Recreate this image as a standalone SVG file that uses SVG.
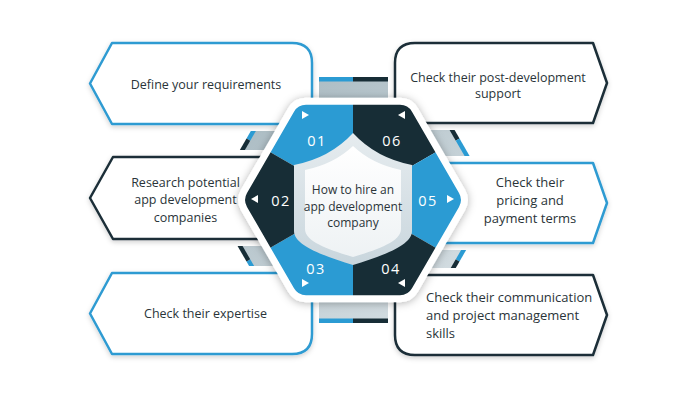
<svg xmlns="http://www.w3.org/2000/svg" width="700" height="400" viewBox="0 0 700 400">
<defs>
<style>
.txt{font-family:"Open Sans","Noto Sans","Liberation Sans",sans-serif;fill:#2a3439;font-size:12px;text-anchor:middle}
.num{font-family:"Open Sans","Noto Sans",sans-serif;fill:#fff;font-size:14.5px;letter-spacing:1.5px;text-anchor:middle}
.blue{fill:#2b9bd3}
.dark{fill:#172d36}
.bx{fill:#fff;stroke-width:2.5;stroke-linejoin:round;filter:url(#sh)}
.bb{stroke:#2f9bd2}
.bd{stroke:#1b2f38}
.under{fill:#fff;stroke:#fff;stroke-width:14;stroke-linejoin:round}
.tri{fill:#fff}
</style>
<filter id="sh" x="-20%" y="-20%" width="140%" height="150%">
<feDropShadow dx="0" dy="2" stdDeviation="2.5" flood-color="#000" flood-opacity="0.18"/>
</filter>
<filter id="hsh" x="-20%" y="-20%" width="140%" height="140%">
<feDropShadow dx="0" dy="1" stdDeviation="4" flood-color="#000" flood-opacity="0.3"/>
</filter>
<linearGradient id="ringG" x1="0" y1="0" x2="1" y2="1">
<stop offset="0" stop-color="#a4b6be"/>
<stop offset="1" stop-color="#dbe3e7"/>
</linearGradient>
<linearGradient id="shieldG" x1="0" y1="0" x2="0" y2="1">
<stop offset="0" stop-color="#e6ecef"/>
<stop offset="1" stop-color="#c9d6dd"/>
</linearGradient>
<linearGradient id="innerG" x1="0" y1="0" x2="0" y2="1">
<stop offset="0" stop-color="#ffffff"/>
<stop offset="1" stop-color="#eef2f4"/>
</linearGradient>
<clipPath id="hexClip">
<path d="M459,193.07 L412,111.63 Q408,104.7 400,104.7 L306,104.7 Q298,104.7 294,111.63 L247,193.07 Q243,200 247,206.93 L294,288.37 Q298,295.3 306,295.3 L400,295.3 Q408,295.3 412,288.37 L459,206.93 Q463,200 459,193.07 Z"/>
</clipPath>
<polygon id="s01" points="353,200 246.5,138.5 282,77 353,77"/>
<polygon id="s06" points="353,200 353,77 424,77 459.5,138.5"/>
<polygon id="s05" points="353,200 459.5,138.5 495,200 459.5,261.5"/>
<polygon id="s04" points="353,200 459.5,261.5 424,323 353,323"/>
<polygon id="s03" points="353,200 353,323 282,323 246.5,261.5"/>
<polygon id="s02" points="353,200 246.5,261.5 211,200 246.5,138.5"/>
</defs>

<rect width="700" height="400" fill="#fff"/>

<g id="connectors">
<use href="#s01" class="blue"/>
<use href="#s06" class="dark"/>
<use href="#s05" class="blue"/>
<use href="#s04" class="dark"/>
<use href="#s03" class="blue"/>
<use href="#s02" class="dark"/>
<polygon points="490,200 421.5,81.4 284.5,81.4 216,200 284.5,318.6 421.5,318.6" fill="url(#ringG)"/>
</g>

<g id="step1">
<path class="under" d="M112,43 H292 Q312,43 312,63 V104 Q312,124 292,124 H112 L90,83.5 Z"/>
<path class="bx bb" d="M112,43 H292 Q312,43 312,63 V104 Q312,124 292,124 H112 L90,83.5 Z"/>
<text class="txt" x="206" y="89" style="font-size:12.5px">Define your requirements</text>
</g>
<g id="step2">
<path class="under" d="M113,157 H280 Q300,157 300,177 V219 Q300,239 280,239 H113 L90,198 Z"/>
<path class="bx bd" d="M113,157 H280 Q300,157 300,177 V219 Q300,239 280,239 H113 L90,198 Z"/>
<text class="txt" x="185.5" y="187" style="font-size:12.5px">Research potential</text>
<text class="txt" x="185.5" y="204" style="font-size:12.5px">app development</text>
<text class="txt" x="185.5" y="221.5" style="font-size:12.5px">companies</text>
</g>
<g id="step3">
<path class="under" d="M112,273 H292 Q312,273 312,293 V334 Q312,354 292,354 H112 L90,313.5 Z"/>
<path class="bx bb" d="M112,273 H292 Q312,273 312,293 V334 Q312,354 292,354 H112 L90,313.5 Z"/>
<text class="txt" x="205.5" y="318" style="font-size:12.5px">Check their expertise</text>
</g>
<g id="step6">
<path class="under" d="M415,43 H593 L607,83 L593,123 H415 Q395,123 395,103 V63 Q395,43 415,43 Z"/>
<path class="bx bd" d="M415,43 H593 L607,83 L593,123 H415 Q395,123 395,103 V63 Q395,43 415,43 Z"/>
<text class="txt" x="498" y="81.5" style="font-size:12.5px">Check their post-development</text>
<text class="txt" x="498" y="97.5" style="font-size:12.5px">support</text>
</g>
<g id="step5">
<path class="under" d="M440,163 H593 L607,203 L593,243 H440 Q420,243 420,223 V183 Q420,163 440,163 Z"/>
<path class="bx bb" d="M440,163 H593 L607,203 L593,243 H440 Q420,243 420,223 V183 Q420,163 440,163 Z"/>
<text class="txt" x="530" y="187" style="font-size:13px">Check their</text>
<text class="txt" x="530" y="205" style="font-size:13px">pricing and</text>
<text class="txt" x="530" y="223" style="font-size:13px">payment terms</text>
</g>
<g id="step4">
<path class="under" d="M415,275 H593 L607,315 L593,355 H415 Q395,355 395,335 V295 Q395,275 415,275 Z"/>
<path class="bx bd" d="M415,275 H593 L607,315 L593,355 H415 Q395,355 395,335 V295 Q395,275 415,275 Z"/>
<text class="txt" x="426" y="302" style="font-size:13px;text-anchor:start">Check their communication</text>
<text class="txt" x="426" y="320" style="font-size:13px;text-anchor:start">and project management</text>
<text class="txt" x="426" y="338" style="font-size:13px;text-anchor:start">skills</text>
</g>

<g id="hub">
<path d="M465,189.61 L418,108.19 Q412,97.8 400,97.8 L306,97.8 Q294,97.8 288,108.19 L241,189.61 Q235,200 241,210.39 L288,291.81 Q294,302.2 306,302.2 L400,302.2 Q412,302.2 418,291.81 L465,210.39 Q471,200 465,189.61 Z" fill="#fff" filter="url(#hsh)"/>
<g clip-path="url(#hexClip)">
<use href="#s01" class="blue"/>
<use href="#s06" class="dark"/>
<use href="#s05" class="blue"/>
<use href="#s04" class="dark"/>
<use href="#s03" class="blue"/>
<use href="#s02" class="dark"/>
</g>
<path d="M294,165 Q330,158 353,133 Q376,158 412,165 L412,231 C412,246 381,256 353,265 C325,256 294,246 294,231 Z" fill="url(#shieldG)"/>
<path d="M305,170 Q334,164 353,146 Q372,164 401,170 L401,229 C401,242 376,250 353,257 C330,250 305,242 305,229 Z" fill="url(#innerG)"/>
<text class="txt" x="353" y="194">How to hire an</text>
<text class="txt" x="353" y="210.5">app development</text>
<text class="txt" x="353" y="227">company</text>
</g>

<g id="num01"><polygon class="tri" points="302,111 309,115 302,119"/><text class="num" x="317" y="145.5">01</text></g>
<g id="num06"><polygon class="tri" points="405,111 398,115 405,119"/><text class="num" x="392" y="145.5">06</text></g>
<g id="num02"><polygon class="tri" points="258,195 251,199 258,203"/><text class="num" x="281" y="205.5">02</text></g>
<g id="num05"><polygon class="tri" points="447,195 454,199 447,203"/><text class="num" x="428" y="205.5">05</text></g>
<g id="num03"><polygon class="tri" points="302,279 309,283 302,287"/><text class="num" x="316" y="273.5">03</text></g>
<g id="num04"><polygon class="tri" points="405,279 398,283 405,287"/><text class="num" x="391" y="273.5">04</text></g>
</svg>
